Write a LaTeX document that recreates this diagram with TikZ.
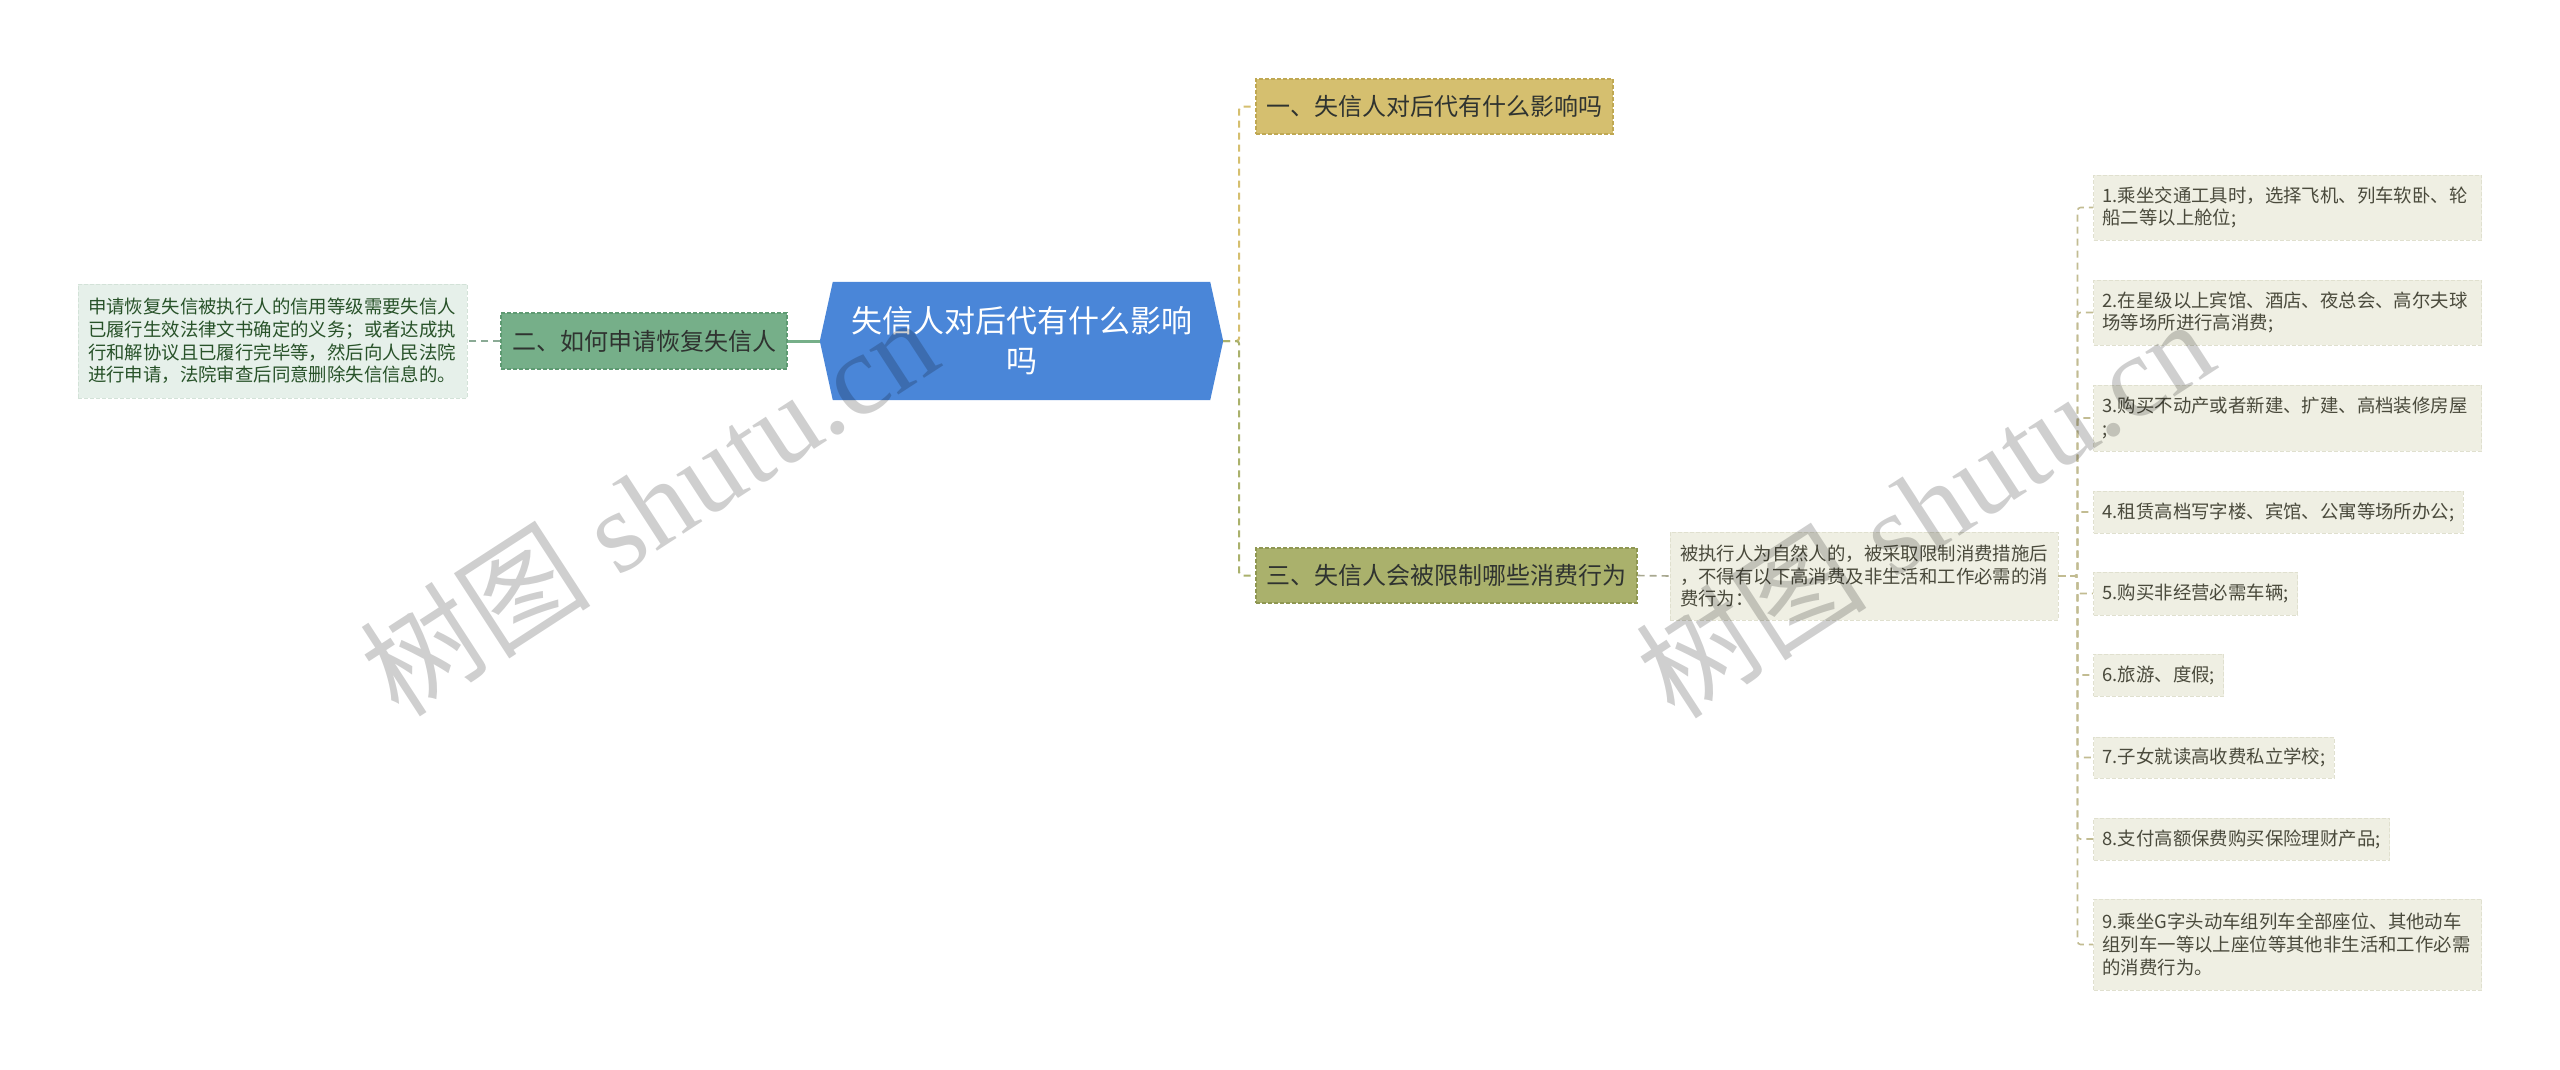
\documentclass[tikz,border=0pt]{standalone}
\usepackage{fontspec}
\setmainfont{Liberation Serif}
\newfontfamily\cjk{Noto Sans CJK SC}
\newfontfamily\wmserif{Liberation Serif}
\usetikzlibrary{backgrounds}
\definecolor{cblue}{HTML}{4A86D8}
\definecolor{cgreen}{HTML}{76AF89}
\definecolor{cgreenb}{HTML}{5E9A72}
\definecolor{leafg}{HTML}{E6F0EA}
\definecolor{leafgb}{HTML}{D3E2D8}
\definecolor{cgold}{HTML}{D5BF6F}
\definecolor{cgoldb}{HTML}{BFA853}
\definecolor{colive}{HTML}{AAB16C}
\definecolor{coliveb}{HTML}{8F9752}
\definecolor{leafo}{HTML}{EFEFE3}
\definecolor{leafob}{HTML}{E0E0CF}
\definecolor{lnolive}{HTML}{C2BC92}
\definecolor{lngreen}{HTML}{8AAA95}
\definecolor{lngrey}{HTML}{A8A890}
\definecolor{txt}{HTML}{2F3330}
\definecolor{txtl}{HTML}{4A4A3C}
\tikzset{
  base/.style={inner sep=0pt},
  topic/.style={base, draw, dash pattern=on 4pt off 2pt, line width=1.2pt,
    font=\cjk\fontsize{24}{30}\selectfont, text=txt},
  note/.style={base, draw, dash pattern=on 4pt off 2pt, line width=1pt,
    font=\cjk\fontsize{18.4}{22.8}\selectfont, text=txtl, align=left},
  item/.style={note, fill=leafo, draw=leafob, anchor=west, inner xsep=9pt},
  trunk/.style={lnolive, line width=1.6pt, dash pattern=on 7pt off 5pt, rounded corners=3pt},
  wm/.style={rotate=33, text=black, text opacity=0.19, inner sep=0pt}
}
\begin{document}
\begin{tikzpicture}[x=1pt,y=-1pt]
\begin{scope}[on background layer]
\fill[white] (0,0) rectangle (2560,1069);
\end{scope}
\useasboundingbox (0,0) rectangle (2560,1069);

% central node
\node[base, minimum width=403pt, minimum height=118pt, text=white, align=center,
  font=\cjk\fontsize{31}{40}\selectfont] (c) at (1021.5,341) {失信人对后代有什么影响\\吗};
\begin{scope}[on background layer]
\fill[cblue] (c.west) -- ([xshift=13pt]c.north west) -- ([xshift=-13pt]c.north east)
  -- (c.east) -- ([xshift=-13pt]c.south east) -- ([xshift=13pt]c.south west) -- cycle;
\end{scope}

% left branch
\node[topic, fill=cgreen, draw=cgreenb, minimum width=286pt, minimum height=56pt] (b2) at (644,341) {二、如何申请恢复失信人};
\node[note, fill=leafg, draw=leafgb, text=txt!85!green, text width=369pt, inner xsep=10pt, minimum width=389pt, minimum height=114pt] (l2) at (272.5,341)
 {申请恢复失信被执行人的信用等级需要失信人\\已履行生效法律文书确定的义务；或者达成执\\行和解协议且已履行完毕等，然后向人民法院\\进行申请，法院审查后同意删除失信信息的。};

% right branches
\node[topic, fill=cgold, draw=cgoldb, minimum width=357pt, minimum height=55pt] (b1) at (1434.5,106.5) {一、失信人对后代有什么影响吗};
\node[topic, fill=colive, draw=coliveb, minimum width=381pt, minimum height=55pt] (b3) at (1446.5,575.5) {三、失信人会被限制哪些消费行为};
\node[note, fill=leafo, draw=leafob, text width=368pt, inner xsep=10pt, minimum width=388pt, minimum height=88pt] (p) at (1864,576)
 {被执行人为自然人的，被采取限制消费措施后\\，不得有以下高消费及非生活和工作必需的消\\费行为：};

% items
\node[item, text width=370pt, minimum height=65pt] (i1) at (2093,207.5) {1.乘坐交通工具时，选择飞机、列车软卧、轮\\船二等以上舱位;};
\node[item, text width=370pt, minimum height=65pt] (i2) at (2093,312.5) {2.在星级以上宾馆、酒店、夜总会、高尔夫球\\场等场所进行高消费;};
\node[item, text width=370pt, minimum height=66pt] (i3) at (2093,418) {3.购买不动产或者新建、扩建、高档装修房屋\\;};
\node[item, minimum height=42pt] (i4) at (2093,512) {4.租赁高档写字楼、宾馆、公寓等场所办公;};
\node[item, minimum height=43pt] (i5) at (2093,593.5) {5.购买非经营必需车辆;};
\node[item, minimum height=42pt] (i6) at (2093,675) {6.旅游、度假;};
\node[item, minimum height=41pt] (i7) at (2093,757.5) {7.子女就读高收费私立学校;};
\node[item, minimum height=42pt] (i8) at (2093,839) {8.支付高额保费购买保险理财产品;};
\node[item, text width=370pt, minimum height=91pt] (i9) at (2093,944.5) {9.乘坐G字头动车组列车全部座位、其他动车\\组列车一等以上座位等其他非生活和工作必需\\的消费行为。};

% connectors
\draw[cgreen, line width=3pt] (c.west) -- (b2.east);
\draw[lngreen, line width=1.8pt, dash pattern=on 7pt off 5pt] (b2.west) -- (l2.east);
\draw[cgold, line width=2pt, dash pattern=on 7pt off 5pt, rounded corners=3pt] (c.east) -- ++(16,0) |- (b1.west);
\draw[colive, line width=2pt, dash pattern=on 7pt off 5pt, rounded corners=3pt] (c.east) -- ++(16,0) |- (b3.west);
\draw[lngrey, line width=1.6pt, dash pattern=on 7pt off 5pt] (b3.east) -- (p.west);
\foreach \i in {1,...,9}{
  \draw[trunk] (p.east) -- ++(19,0) |- (i\i.west);
}

% watermarks
\node[wm] (wm1) at (648,505) {\fontsize{116}{116}\selectfont{\cjk 树图} {\wmserif shutu.cn}};
\node[wm] (wm2) at (1924,507) {\fontsize{116}{116}\selectfont{\cjk 树图} {\wmserif shutu.cn}};
\end{tikzpicture}
\end{document}
